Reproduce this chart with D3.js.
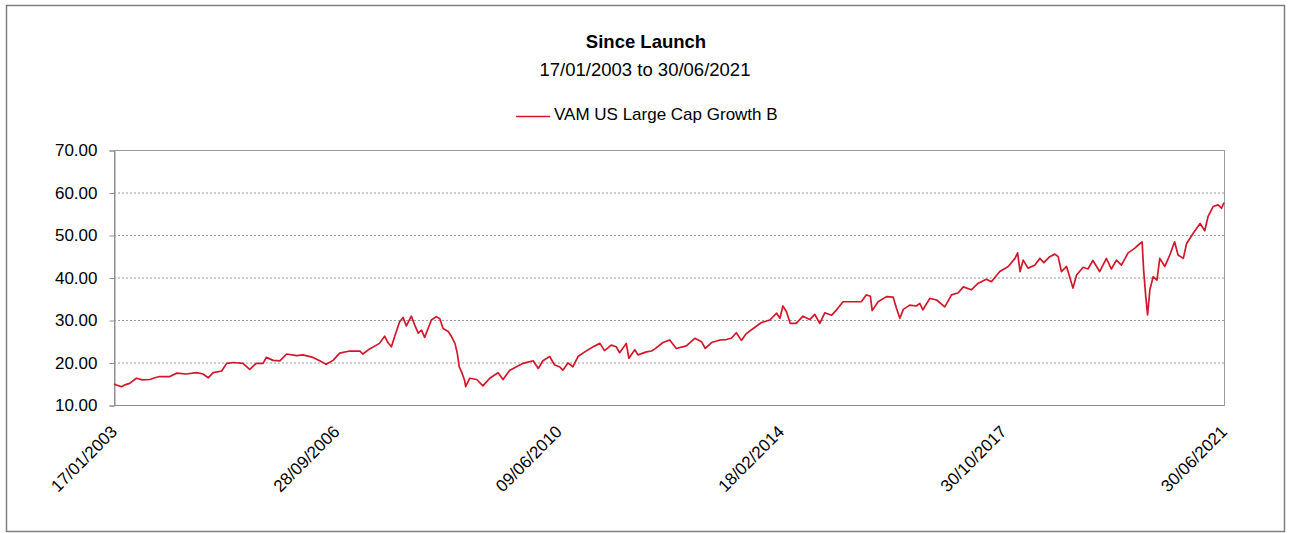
<!DOCTYPE html>
<html>
<head>
<meta charset="utf-8">
<script src="https://cdn.jsdelivr.net/npm/d3@7"></script>
<style>
  body { margin: 0; background: #fff; }
  text { font-family: Arial, 'Liberation Sans', sans-serif; fill: #000; }
</style>
</head>
<body>
<div class="chart"></div>
<script>
// 数据
let title = 'Since Launch'
let subtitle = '17/01/2003 to 30/06/2021'
let seriesName = 'VAM US Large Cap Growth B'
let yTicks = [10, 20, 30, 40, 50, 60, 70]
let xTickDates = ['2003-01-17', '2006-09-28', '2010-06-09', '2014-02-18', '2017-10-30', '2021-06-30']

let dates = [
  '2003-01-17', '2003-02-10', '2003-03-03', '2003-03-28', '2003-04-22', '2003-06-02', '2003-07-10', '2003-08-22',
  '2003-09-22', '2003-10-22', '2003-12-22', '2004-02-02', '2004-04-01', '2004-06-01', '2004-07-11', '2004-08-11',
  '2004-09-10', '2004-11-01', '2004-12-01', '2005-01-10', '2005-03-10', '2005-04-20', '2005-05-30', '2005-07-10',
  '2005-07-30', '2005-09-09', '2005-10-20', '2005-11-30', '2006-01-30', '2006-03-09', '2006-05-09', '2006-06-19',
  '2006-07-28', '2006-09-08', '2006-10-18', '2006-12-18', '2007-02-18', '2007-03-08', '2007-04-18', '2007-06-17',
  '2007-07-18', '2007-08-07', '2007-08-28', '2007-09-17', '2007-10-17', '2007-11-07', '2007-11-27', '2007-12-27',
  '2008-01-17', '2008-02-07', '2008-02-27', '2008-03-17', '2008-04-07', '2008-04-27', '2008-05-27', '2008-06-17',
  '2008-07-07', '2008-08-07', '2008-08-27', '2008-09-17', '2008-10-01', '2008-10-13', '2008-10-27', '2008-11-14',
  '2008-11-21', '2008-12-16', '2009-01-27', '2009-03-06', '2009-04-16', '2009-06-06', '2009-07-06', '2009-08-16',
  '2009-09-26', '2009-11-05', '2010-01-05', '2010-02-05', '2010-03-05', '2010-04-15', '2010-05-15', '2010-06-14',
  '2010-07-04', '2010-08-04', '2010-09-03', '2010-10-04', '2010-11-14', '2011-01-04', '2011-02-14', '2011-03-14',
  '2011-04-24', '2011-05-24', '2011-06-14', '2011-07-24', '2011-08-09', '2011-09-14', '2011-10-03', '2011-11-24',
  '2011-12-24', '2012-01-14', '2012-03-03', '2012-04-13', '2012-05-23', '2012-07-23', '2012-09-12', '2012-10-23',
  '2012-11-15', '2012-12-23', '2013-02-12', '2013-03-22', '2013-04-22', '2013-05-22', '2013-06-22', '2013-07-22',
  '2013-09-12', '2013-10-22', '2013-12-12', '2014-01-22', '2014-02-11', '2014-03-01', '2014-03-22', '2014-04-15',
  '2014-05-21', '2014-07-01', '2014-08-11', '2014-09-11', '2014-10-11', '2014-11-10', '2014-12-21', '2015-01-21',
  '2015-03-01', '2015-05-01', '2015-06-20', '2015-07-20', '2015-08-14', '2015-08-25', '2015-09-30', '2015-11-20',
  '2015-12-30', '2016-01-20', '2016-02-09', '2016-03-01', '2016-04-09', '2016-05-19', '2016-06-09', '2016-06-28',
  '2016-08-09', '2016-09-19', '2016-11-08', '2016-12-19', '2017-01-29', '2017-02-28', '2017-04-18', '2017-05-28',
  '2017-07-18', '2017-08-18', '2017-10-08', '2017-11-28', '2018-01-08', '2018-01-24', '2018-02-08', '2018-02-27',
  '2018-03-28', '2018-05-08', '2018-06-08', '2018-07-02', '2018-08-07', '2018-09-07', '2018-09-27', '2018-10-17',
  '2018-11-17', '2018-12-07', '2018-12-26', '2019-01-17', '2019-02-26', '2019-03-27', '2019-04-26', '2019-06-06',
  '2019-07-17', '2019-08-16', '2019-09-16', '2019-10-16', '2019-11-26', '2020-01-06', '2020-02-06', '2020-02-19',
  '2020-02-28', '2020-03-12', '2020-03-23', '2020-04-06', '2020-04-26', '2020-05-19', '2020-06-05', '2020-07-06',
  '2020-08-05', '2020-09-03', '2020-09-24', '2020-10-26', '2020-11-15', '2020-12-25', '2021-02-05', '2021-03-05',
  '2021-03-25', '2021-04-25', '2021-05-25', '2021-06-15', '2021-06-30'
]
let prices = [
  14.9, 14.6, 14.3, 14.8, 15.1, 16.3, 15.9, 16.0,
  16.4, 16.7, 16.7, 17.5, 17.3, 17.6, 17.3, 16.4,
  17.6, 18.0, 19.8, 20.0, 19.8, 18.4, 19.8, 19.8,
  21.2, 20.5, 20.4, 22.0, 21.6, 21.8, 21.2, 20.4,
  19.6, 20.5, 22.2, 22.7, 22.7, 22.0, 23.2, 24.5,
  26.2, 24.7, 23.7, 26.1, 29.6, 30.6, 28.6, 30.9,
  28.8, 26.9, 27.6, 25.9, 28.0, 30.0, 30.8, 30.3,
  28.0, 27.3, 26.1, 24.5, 22.2, 19.0, 17.8, 15.9,
  14.3, 16.3, 16.0, 14.5, 16.3, 17.6, 16.0, 18.2,
  19.0, 19.8, 20.4, 18.6, 20.4, 21.4, 19.4, 19.0,
  18.2, 19.9, 19.0, 21.4, 22.5, 23.7, 24.5, 22.8,
  24.1, 23.7, 22.3, 24.5, 21.0, 23.0, 21.8, 22.5,
  22.7, 23.2, 24.7, 25.3, 23.3, 23.9, 25.7, 24.9,
  23.3, 24.7, 25.3, 25.4, 25.7, 27.0, 25.2, 26.8,
  28.3, 29.4, 30.0, 31.6, 30.4, 33.3, 32.0, 29.2,
  29.2, 30.9, 30.1, 31.3, 29.2, 31.7, 31.1, 32.4,
  34.3, 34.3, 34.3, 35.9, 35.6, 32.2, 34.3, 35.5,
  35.4, 32.7, 30.4, 32.5, 33.5, 33.3, 33.9, 32.4,
  35.1, 34.7, 33.1, 35.9, 36.4, 37.8, 37.1, 38.6,
  39.6, 39.0, 41.4, 42.6, 44.5, 45.8, 41.4, 44.1,
  42.2, 42.9, 44.5, 43.5, 44.9, 45.5, 44.9, 41.4,
  42.6, 40.0, 37.5, 40.6, 42.4, 42.0, 44.0, 41.4,
  44.5, 42.0, 44.1, 42.9, 45.8, 46.9, 48.0, 48.4,
  41.8, 35.5, 31.2, 37.1, 40.2, 39.4, 44.5, 42.6,
  45.3, 48.4, 45.3, 44.5, 48.0, 50.4, 52.7, 51.0,
  54.3, 56.7, 57.1, 56.3, 57.6
]

//图表样式
let w = 1290
let h = 533
let plot = { left: 114, right: 1224, top: 150, bottom: 405 }
let lineColor = '#d3172b'
let gridColor = '#9a9a9a'
let axisColor = '#8c8c8c'

let parse = d3.timeParse('%Y-%m-%d')
let fmtDate = d3.timeFormat('%d/%m/%Y')
let data = dates.map((d, i) => ({ date: parse(d), value: prices[i] }))

let svg = d3.select('.chart')
  .append('svg')
  .attr('width', w)
  .attr('height', h)

// 外框
svg.append('rect')
  .attr('x', 6.5)
  .attr('y', 5.5)
  .attr('width', 1278)
  .attr('height', 526)
  .attr('fill', '#fff')
  .attr('stroke', '#7f7f7f')
  .attr('stroke-width', 1.5)

let xScale = d3.scaleTime()
  .domain([parse(xTickDates[0]), parse(xTickDates[xTickDates.length - 1])])
  .range([plot.left, plot.right])
let yScale = d3.scaleLinear()
  .domain([10, 70])
  .range([plot.bottom, plot.top])

// 网格线
svg.append('g')
  .selectAll('line')
  .data(yTicks.slice(1, -1))
  .enter()
  .append('line')
  .attr('x1', plot.left)
  .attr('x2', plot.right)
  .attr('y1', d => yScale(d) + 0.5)
  .attr('y2', d => yScale(d) + 0.5)
  .attr('stroke', gridColor)
  .attr('stroke-dasharray', '2,2')

// 绘图区边框
svg.append('rect')
  .attr('x', plot.left + 0.5)
  .attr('y', plot.top + 0.5)
  .attr('width', plot.right - plot.left)
  .attr('height', plot.bottom - plot.top)
  .attr('fill', 'none')
  .attr('stroke', gridColor)

// y轴
let yAxis = d3.axisLeft(yScale)
  .tickValues(yTicks)
  .tickFormat(d3.format('.2f'))
  .tickSize(5)
  .tickPadding(12)
let gy = svg.append('g')
  .attr('transform', `translate(${plot.left + 0.5}, 0.5)`)
  .call(yAxis)
gy.select('.domain').attr('stroke', axisColor)
gy.selectAll('.tick line').attr('stroke', axisColor)
gy.selectAll('.tick text')
  .attr('font-size', '17px')
  .attr('font-family', 'Arial, Liberation Sans, sans-serif')
  .attr('fill', '#000')

// x轴
let gx = svg.append('g')
  .attr('transform', `translate(0, ${plot.bottom + 0.5})`)
gx.append('line')
  .attr('x1', plot.left)
  .attr('x2', plot.right)
  .attr('stroke', axisColor)
gx.selectAll('text')
  .data(xTickDates.map(parse))
  .enter()
  .append('text')
  .text(d => fmtDate(d))
  .attr('text-anchor', 'end')
  .attr('dy', '0.35em')
  .attr('font-size', '17px')
  .attr('transform', d => `translate(${xScale(d)}, 23) rotate(-45)`)

// 折线
let line = d3.line()
  .x(d => xScale(d.date))
  .y(d => yScale(d.value))
svg.append('path')
  .datum(data)
  .attr('d', line)
  .attr('fill', 'none')
  .attr('stroke', lineColor)
  .attr('stroke-width', 1.7)
  .attr('stroke-linejoin', 'round')

// 标题
svg.append('text')
  .text(title)
  .attr('x', 646)
  .attr('y', 48)
  .attr('text-anchor', 'middle')
  .attr('font-size', '18.5px')
  .attr('font-weight', 'bold')
svg.append('text')
  .text(subtitle)
  .attr('x', 645)
  .attr('y', 76)
  .attr('text-anchor', 'middle')
  .attr('font-size', '18.5px')

// 图例
svg.append('line')
  .attr('x1', 516)
  .attr('x2', 550)
  .attr('y1', 116.5)
  .attr('y2', 116.5)
  .attr('stroke', lineColor)
  .attr('stroke-width', 1.4)
svg.append('text')
  .text(seriesName)
  .attr('x', 554)
  .attr('y', 120)
  .attr('font-size', '17px')
</script>
</body>
</html>
